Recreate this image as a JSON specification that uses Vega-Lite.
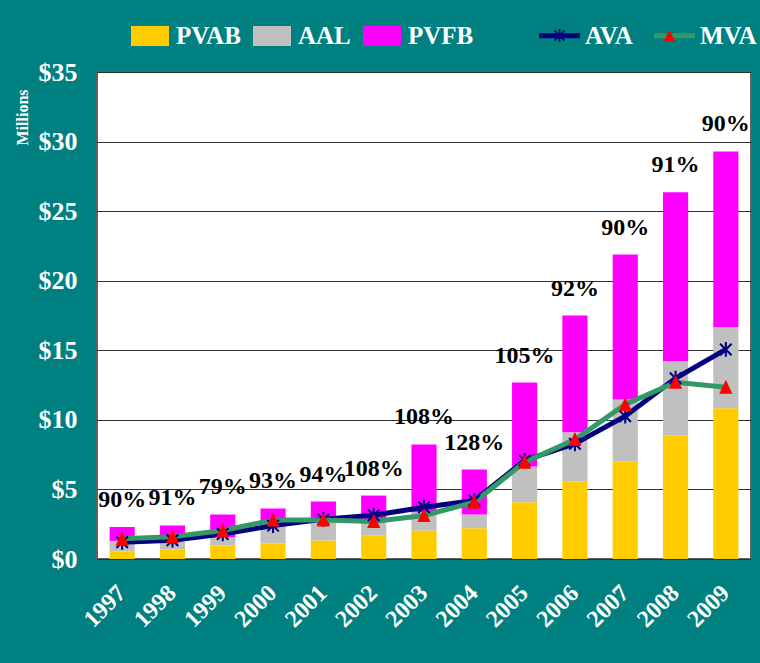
{
  "$schema": "https://vega.github.io/schema/vega-lite/v6.json",
  "width": 654,
  "height": 487,
  "autosize": {"type": "none"},
  "padding": {"left": 97, "top": 72, "right": 9, "bottom": 104},
  "background": "#008080",
  "config": {
    "view": {"fill": "#FFFFFF", "stroke": "#606060", "strokeWidth": 2},
    "font": "Liberation Serif"
  },
  "datasets": {
    "bars": [
      {"year": "1997", "component": "PVAB", "value": 0.55}, {"year": "1997", "component": "AAL", "value": 0.75}, {"year": "1997", "component": "PVFB", "value": 1.0},
      {"year": "1998", "component": "PVAB", "value": 0.68}, {"year": "1998", "component": "AAL", "value": 0.70}, {"year": "1998", "component": "PVFB", "value": 1.03},
      {"year": "1999", "component": "PVAB", "value": 0.97}, {"year": "1999", "component": "AAL", "value": 0.60}, {"year": "1999", "component": "PVFB", "value": 1.63},
      {"year": "2000", "component": "PVAB", "value": 1.11}, {"year": "2000", "component": "AAL", "value": 1.66}, {"year": "2000", "component": "PVFB", "value": 0.86},
      {"year": "2001", "component": "PVAB", "value": 1.33}, {"year": "2001", "component": "AAL", "value": 1.32}, {"year": "2001", "component": "PVFB", "value": 1.48},
      {"year": "2002", "component": "PVAB", "value": 1.69}, {"year": "2002", "component": "AAL", "value": 0.96}, {"year": "2002", "component": "PVFB", "value": 1.91},
      {"year": "2003", "component": "PVAB", "value": 2.05}, {"year": "2003", "component": "AAL", "value": 1.31}, {"year": "2003", "component": "PVFB", "value": 4.87},
      {"year": "2004", "component": "PVAB", "value": 2.21}, {"year": "2004", "component": "AAL", "value": 0.99}, {"year": "2004", "component": "PVFB", "value": 3.23},
      {"year": "2005", "component": "PVAB", "value": 4.08}, {"year": "2005", "component": "AAL", "value": 2.57}, {"year": "2005", "component": "PVFB", "value": 6.03},
      {"year": "2006", "component": "PVAB", "value": 5.57}, {"year": "2006", "component": "AAL", "value": 3.54}, {"year": "2006", "component": "PVFB", "value": 8.39},
      {"year": "2007", "component": "PVAB", "value": 7.03}, {"year": "2007", "component": "AAL", "value": 4.43}, {"year": "2007", "component": "PVFB", "value": 10.42},
      {"year": "2008", "component": "PVAB", "value": 8.88}, {"year": "2008", "component": "AAL", "value": 5.34}, {"year": "2008", "component": "PVFB", "value": 12.14},
      {"year": "2009", "component": "PVAB", "value": 10.84}, {"year": "2009", "component": "AAL", "value": 5.82}, {"year": "2009", "component": "PVFB", "value": 12.63}
    ],
    "lines": [
      {"year": "1997", "series": "AVA", "value": 1.2}, {"year": "1998", "series": "AVA", "value": 1.35}, {"year": "1999", "series": "AVA", "value": 1.8},
      {"year": "2000", "series": "AVA", "value": 2.4}, {"year": "2001", "series": "AVA", "value": 2.85}, {"year": "2002", "series": "AVA", "value": 3.15},
      {"year": "2003", "series": "AVA", "value": 3.72}, {"year": "2004", "series": "AVA", "value": 4.2}, {"year": "2005", "series": "AVA", "value": 7.08},
      {"year": "2006", "series": "AVA", "value": 8.28}, {"year": "2007", "series": "AVA", "value": 10.26}, {"year": "2008", "series": "AVA", "value": 12.99},
      {"year": "2009", "series": "AVA", "value": 15.06},
      {"year": "1997", "series": "MVA", "value": 1.45}, {"year": "1998", "series": "MVA", "value": 1.6}, {"year": "1999", "series": "MVA", "value": 2.05},
      {"year": "2000", "series": "MVA", "value": 2.8}, {"year": "2001", "series": "MVA", "value": 2.8}, {"year": "2002", "series": "MVA", "value": 2.7},
      {"year": "2003", "series": "MVA", "value": 3.13}, {"year": "2004", "series": "MVA", "value": 4.08}, {"year": "2005", "series": "MVA", "value": 6.96},
      {"year": "2006", "series": "MVA", "value": 8.59}, {"year": "2007", "series": "MVA", "value": 11.1}, {"year": "2008", "series": "MVA", "value": 12.7},
      {"year": "2009", "series": "MVA", "value": 12.35}
    ],
    "labels": [
      {"year": "1997", "pct": 0.90}, {"year": "1998", "pct": 0.91}, {"year": "1999", "pct": 0.79},
      {"year": "2000", "pct": 0.93}, {"year": "2001", "pct": 0.94}, {"year": "2002", "pct": 1.08},
      {"year": "2003", "pct": 1.08}, {"year": "2004", "pct": 1.28}, {"year": "2005", "pct": 1.05},
      {"year": "2006", "pct": 0.92}, {"year": "2007", "pct": 0.90}, {"year": "2008", "pct": 0.91},
      {"year": "2009", "pct": 0.90}
    ]
  },
  "layer": [
    {
      "data": {"name": "bars"},
      "transform": [{"calculate": "indexof(['PVAB','AAL','PVFB'], datum.component)", "as": "k"}],
      "mark": {"type": "bar"},
      "encoding": {
        "x": {
          "field": "year", "type": "ordinal",
          "scale": {"paddingInner": 0.5, "paddingOuter": 0.25},
          "axis": {
            "title": null, "labelAngle": -45, "labelAlign": "right", "labelBaseline": "middle",
            "labelFont": "Liberation Serif", "labelFontWeight": "bold", "labelFontSize": 24,
            "labelColor": "#FFFFFF", "labelPadding": 30, "ticks": false, "tickSize": 0,
            "domain": false, "grid": false, "labelOverlap": false
          }
        },
        "y": {
          "field": "value", "type": "quantitative", "stack": "zero",
          "scale": {"domain": [0, 35], "nice": false},
          "axis": {
            "title": "Millions", "titleFont": "Liberation Serif", "titleFontSize": 16,
            "titleFontWeight": "bold", "titleColor": "#FFFFFF", "titleX": -75, "titleY": 45,
            "titleAngle": -90, "titleAlign": "center", "titleBaseline": "middle",
            "values": [0, 5, 10, 15, 20, 25, 30, 35],
            "labelExpr": "'$' + datum.value",
            "labelFont": "Liberation Serif", "labelFontWeight": "bold", "labelFontSize": 26,
            "labelColor": "#FFFFFF", "labelPadding": 20, "ticks": false, "tickSize": 0,
            "domain": false, "grid": true, "gridColor": "#303030", "gridWidth": 1, "gridOpacity": 1
          }
        },
        "color": {
          "field": "component", "type": "nominal",
          "scale": {"domain": ["PVAB", "AAL", "PVFB"], "range": ["#FFCC00", "#C0C0C0", "#FF00FF"]},
          "legend": {
            "orient": "none", "legendX": 34, "legendY": -55, "direction": "horizontal", "title": null,
            "symbolType": "M-1,-0.526H1V0.526H-1Z", "symbolSize": 1444, "symbolStrokeWidth": 0,
            "symbolOpacity": 1,
            "labelFont": "Liberation Serif", "labelFontWeight": "bold", "labelFontSize": 25,
            "labelColor": "#FFFFFF", "labelOffset": 7, "columnPadding": 12, "padding": 0
          }
        },
        "order": {"field": "k", "type": "quantitative"}
      }
    },
    {
      "data": {"name": "lines"},
      "mark": {"type": "line", "strokeWidth": 5},
      "encoding": {
        "x": {"field": "year", "type": "ordinal"},
        "y": {"field": "value", "type": "quantitative"},
        "stroke": {
          "field": "series", "type": "nominal",
          "scale": {"range": ["#000080", "#339966"]},
          "legend": {
            "orient": "none", "legendX": 442, "legendY": -57, "direction": "horizontal", "title": null,
            "symbolType": "M-1.14,0H1.14", "symbolSize": 1296, "symbolStrokeWidth": 5,
            "labelFont": "Liberation Serif", "labelFontWeight": "bold", "labelFontSize": 25,
            "labelColor": "#FFFFFF", "labelOffset": 5, "columnPadding": 10, "padding": 0
          }
        }
      }
    },
    {
      "data": {"name": "lines"},
      "mark": {"type": "point", "filled": true, "size": 1681, "strokeWidth": 0, "opacity": 1},
      "encoding": {
        "x": {"field": "year", "type": "ordinal"},
        "y": {"field": "value", "type": "quantitative"},
        "shape": {
          "field": "series", "type": "nominal",
          "scale": {
            "domain": ["AVA", "MVA"],
            "range": [
              "M-0.05,-0.36H0.05V0.36H-0.05ZM-0.245,-0.315L0.315,0.245L0.245,0.315L-0.315,-0.245ZM-0.315,0.245L0.245,-0.315L0.315,-0.245L-0.245,0.315Z",
              "M0,-0.36L0.32,0.32H-0.32Z"
            ]
          },
          "legend": {
            "orient": "none", "legendX": 442, "legendY": -57, "direction": "horizontal", "title": null,
            "symbolSize": 1296, "symbolStrokeWidth": 5, "symbolOpacity": 1,
            "labelFont": "Liberation Serif", "labelFontWeight": "bold", "labelFontSize": 25,
            "labelColor": "#FFFFFF", "labelExpr": "''", "labelOffset": 5, "columnPadding": 64, "padding": 0
          }
        },
        "fill": {
          "field": "series", "type": "nominal",
          "scale": {"domain": ["AVA", "MVA"], "range": ["#000080", "#FF0000"]},
          "legend": {
            "orient": "none", "legendX": 442, "legendY": -57, "direction": "horizontal", "title": null,
            "symbolSize": 1296, "symbolStrokeWidth": 5, "symbolOpacity": 1,
            "labelFont": "Liberation Serif", "labelFontWeight": "bold", "labelFontSize": 25,
            "labelColor": "#FFFFFF", "labelExpr": "''", "labelOffset": 5, "columnPadding": 64, "padding": 0
          }
        }
      }
    },
    {
      "data": {"name": "bars"},
      "transform": [
        {"aggregate": [{"op": "sum", "field": "value", "as": "total"}], "groupby": ["year"]},
        {"lookup": "year", "from": {"data": {"name": "labels"}, "key": "year", "fields": ["pct"]}}
      ],
      "mark": {"type": "text", "dy": -27, "baseline": "middle", "align": "center", "font": "Liberation Serif", "fontWeight": "bold", "fontSize": 24, "color": "#000000"},
      "encoding": {
        "x": {"field": "year", "type": "ordinal"},
        "y": {"field": "total", "type": "quantitative"},
        "text": {"field": "pct", "type": "quantitative", "format": ".0%"}
      }
    }
  ]
}
